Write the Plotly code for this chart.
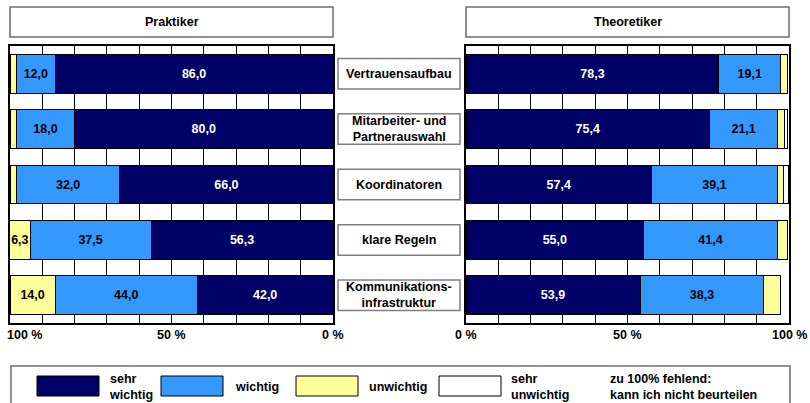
import plotly.graph_objects as go

# ---------------- data ----------------
categories = ["Vertrauensaufbau", "Mitarbeiter- und Partnerauswahl", "Koordinatoren",
              "klare Regeln", "Kommunikationsinfrastruktur"]
category_labels = ["Vertrauensaufbau", "Mitarbeiter- und<br>Partnerauswahl", "Koordinatoren",
                   "klare Regeln", "Kommunikations-<br>infrastruktur"]
series_names = ["sehr wichtig", "wichtig", "unwichtig", "sehr unwichtig"]
legend_labels = ["sehr<br>wichtig", "wichtig", "unwichtig", "sehr<br>unwichtig"]
legend_note = "zu 100% fehlend:<br>kann ich nicht beurteilen"
panel_titles = ["Praktiker", "Theoretiker"]
tick_values = [0, 50, 100]
tick_labels = ["0 %", "50 %", "100 %"]

prakt_sehr_wichtig = [86.0, 80.0, 66.0, 56.3, 42.0]
prakt_wichtig = [12.0, 18.0, 32.0, 37.5, 44.0]
prakt_unwichtig = [2.0, 2.0, 2.0, 6.3, 14.0]
prakt_sehr_unwichtig = [0.0, 0.0, 0.0, 0.0, 0.0]
prakt_show_label = [[1, 1, 1, 1, 1], [1, 1, 1, 1, 1], [0, 0, 0, 1, 1], [0, 0, 0, 0, 0]]

theo_sehr_wichtig = [78.3, 75.4, 57.4, 55.0, 53.9]
theo_wichtig = [19.1, 21.1, 39.1, 41.4, 38.3]
theo_unwichtig = [2.0, 2.0, 1.8, 3.2, 5.2]
theo_sehr_unwichtig = [0.0, 1.0, 1.5, 0.0, 0.0]
theo_show_label = [[1, 1, 1, 1, 1], [1, 1, 1, 1, 1], [0, 0, 0, 0, 0], [0, 0, 0, 0, 0]]

# ---------------- styles ----------------
colors = ["#000066", "#3399FF", "#FFFF99", "#FFFFFF"]
text_colors = ["#FFFFFF", "#000000", "#000000", "#000000"]
FONT = "Liberation Sans, Arial, sans-serif"
FS = 12.5
W, H = 810, 403


def px(x):
    return x / W


def py(y):
    return 1 - y / H


def fmt(v):
    return f"{v:.1f}".replace(".", ",")


fig = go.Figure()

panels = [
    ([prakt_sehr_wichtig, prakt_wichtig, prakt_unwichtig, prakt_sehr_unwichtig], prakt_show_label, "x", "y"),
    ([theo_sehr_wichtig, theo_wichtig, theo_unwichtig, theo_sehr_unwichtig], theo_show_label, "x2", "y2"),
]
for series, show, xa, ya in panels:
    for i, vals in enumerate(series):
        texts = [f"<b>{fmt(v)}</b>" if s else "" for v, s in zip(vals, show[i])]
        fig.add_trace(go.Bar(
            y=categories, x=vals, orientation="h", name=series_names[i],
            marker=dict(color=colors[i], line=dict(color="#000000", width=1)),
            text=texts, textposition="inside", insidetextanchor="middle", textangle=0,
            textfont=dict(color=text_colors[i], size=FS, family=FONT),
            xaxis=xa, yaxis=ya, showlegend=False, hoverinfo="skip",
        ))

ydom = [py(323), py(46)]
common_x = dict(tickvals=list(range(0, 101, 10)), showticklabels=False, ticks="",
                showgrid=True, gridcolor="#000000", gridwidth=1.2, zeroline=False,
                showline=True, mirror=True, linecolor="#000000", linewidth=1.5, fixedrange=True)
common_y = dict(type="category", categoryorder="array", categoryarray=categories,
                autorange="reversed", showticklabels=False, ticks="", showgrid=False,
                zeroline=False, showline=True, mirror=True, linecolor="#000000",
                linewidth=1.5, domain=ydom, fixedrange=True)

fig.update_layout(
    width=W, height=H, margin=dict(l=0, r=0, t=0, b=0),
    paper_bgcolor="white", plot_bgcolor="white",
    barmode="stack", bargap=0.3,
    uniformtext=dict(minsize=FS, mode="show"),
    xaxis=dict(domain=[px(10), px(333)], range=[100, 0], anchor="y", **common_x),
    yaxis=dict(anchor="x", **common_y),
    xaxis2=dict(domain=[px(466), px(789)], range=[0, 100], anchor="y2", **common_x),
    yaxis2=dict(anchor="x2", **common_y),
    font=dict(family=FONT, size=FS, color="#000000"),
)

shapes = []
annotations = []

# panel titles
for (x0, x1), title in zip([(10, 333), (466, 789)], panel_titles):
    shapes.append(dict(type="rect", xref="paper", yref="paper", x0=px(x0), x1=px(x1),
                       y0=py(37), y1=py(7), line=dict(color="#6f6f6f", width=1.5),
                       fillcolor="white"))
    annotations.append(dict(text=f"<b>{title}</b>", xref="paper", yref="paper",
                            x=px((x0 + x1) / 2), y=py(22), showarrow=False,
                            xanchor="center", yanchor="middle", font=dict(size=FS)))

# tick labels
for xa, shift_map in [("x", {100: ("left", -5)}), ("x2", {})]:
    for v, t in zip(tick_values, tick_labels):
        anchor, shift = shift_map.get(v, ("center", 0))
        annotations.append(dict(text=f"<b>{t}</b>", xref=xa, yref="paper", x=v, y=py(335),
                                showarrow=False, xanchor=anchor, xshift=shift,
                                yanchor="middle", font=dict(size=FS)))

# center category boxes
for i, lab in enumerate(category_labels):
    shapes.append(dict(type="rect", xref="paper", yref="y", x0=px(338), x1=px(460),
                       y0=i - 0.275, y1=i + 0.275, line=dict(color="#7f7f7f", width=1.5),
                       fillcolor="white"))
    annotations.append(dict(text=f"<b>{lab}</b>", xref="paper", yref="y", x=px(399),
                            y=categories[i], showarrow=False, xanchor="center",
                            yanchor="middle", font=dict(size=FS)))

# legend
shapes.append(dict(type="rect", xref="paper", yref="paper", x0=px(11), x1=px(790),
                   y0=py(420), y1=py(366), line=dict(color="#6f6f6f", width=1.5),
                   fillcolor="rgba(0,0,0,0)"))
sw_x = [37, 161, 296, 439]
tx_x = [107, 233, 367, 509]
for i in range(4):
    shapes.append(dict(type="rect", xref="paper", yref="paper", x0=px(sw_x[i]),
                       x1=px(sw_x[i] + 62), y0=py(396), y1=py(376),
                       line=dict(color="#000000", width=1), fillcolor=colors[i]))
    annotations.append(dict(text=f"<b>{legend_labels[i]}</b>", xref="paper", yref="paper",
                            x=px(tx_x[i]), y=py(386.5), showarrow=False, xanchor="left",
                            yanchor="middle", align="left", font=dict(size=FS)))
annotations.append(dict(text=f"<b>{legend_note}</b>", xref="paper", yref="paper",
                        x=px(608), y=py(386.5), showarrow=False, xanchor="left",
                        yanchor="middle", align="left", font=dict(size=FS)))

fig.update_layout(shapes=shapes, annotations=annotations)
fig.write_html("out.html")
